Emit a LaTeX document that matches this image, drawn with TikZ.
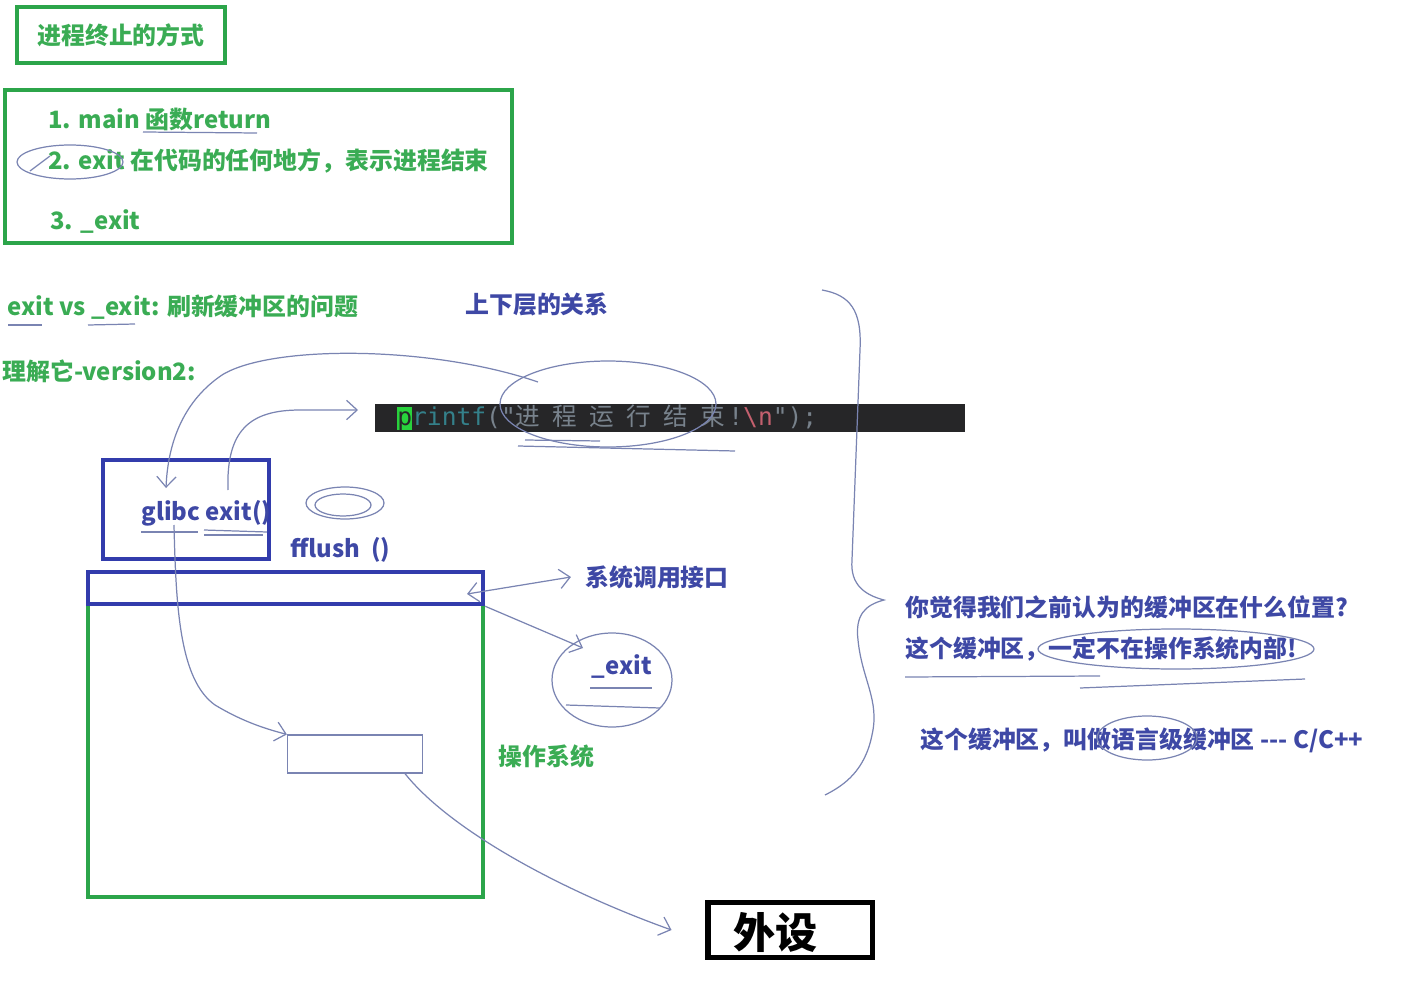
\documentclass[tikz,border=0pt]{standalone}
\usepackage{fontspec}
\setmainfont{Noto Sans CJK SC}
\newfontfamily\codefont{DejaVu Sans Mono}
\newfontfamily\codecjk{Noto Sans CJK SC}
\usetikzlibrary{positioning,arrows.meta}
\definecolor{osgreen}{RGB}{44,165,74}
\definecolor{txtgreen}{RGB}{58,172,84}
\definecolor{libblue}{RGB}{50,60,172}
\definecolor{inkblue}{RGB}{62,72,165}
\definecolor{pen}{RGB}{122,132,178}
\definecolor{codebg}{RGB}{38,38,40}
\definecolor{codefn}{RGB}{52,128,138}
\definecolor{codestr}{RGB}{120,130,140}
\definecolor{codered}{RGB}{196,96,110}
\definecolor{cursor}{RGB}{40,210,60}
\tikzset{
  txt/.style={font=\fontsize{13.6}{16}\selectfont\bfseries, anchor=west, inner sep=0pt},
  greentxt/.style={txt, text=txtgreen},
  bluetxt/.style={txt, text=inkblue},
  gbox/.style={draw=osgreen, line width=2.6pt},
  bbox/.style={draw=libblue, line width=2.6pt},
  hand/.style={draw=pen, line width=0.7pt},
  handarrow/.style={hand, -{Straight Barb[length=6pt,width=11pt]}}
}
\begin{document}
\begin{tikzpicture}[x=0.02cm,y=-0.02cm]
  \useasboundingbox (0,0) rectangle (1417,990);
  % ways to end a process
  \node[gbox, greentxt, anchor=center, minimum width=4.16cm, minimum height=1.12cm] (title) at (121,35) {进程终止的方式};
  \node[gbox, minimum width=10.14cm, minimum height=3.06cm] (ways) at (258.5,166.5) {};
  \node[greentxt] (way1) at (48,119) {1. main 函数return};
  \node[greentxt] (way2) at (48,161) {2. exit 在代码的任何地方，表示进程结束};
  \node[greentxt] (way3) at (50,222) {3. \_exit};
  \draw[hand] (70,162) ellipse [x radius=53, y radius=17];
  \draw[hand] (30,171) -- (50,156);
  \draw[hand] (143,132) -- (257,133);

  \node[greentxt] (vs) at (7,307) {exit vs \_exit: 刷新缓冲区的问题};
  \draw[hand] (8,325) -- (42,325);
  \draw[hand] (88,325) -- (135,324);
  \node[bluetxt] (layers) at (465,304) {上下层的关系};
  \node[greentxt] (ver) at (2,371) {理解它-version2:};

  % code line
  \node[fill=codebg, inner sep=0pt, minimum width=11.8cm, minimum height=0.56cm] (code) at (670,418) {};
  \node[fill=cursor, inner sep=0pt, minimum width=0.3cm, minimum height=0.46cm] (cursorbox) at (404,418) {};
  \node[anchor=west, inner sep=0pt, font=\codefont\fontsize{14}{16}\selectfont] (codetxt) at (397,418)
    {{\color{codebg}p}{\color{codefn}rintf}{\color{codestr}("}{\codecjk\color{codestr}进\hspace{7pt}程\hspace{7pt}运\hspace{7pt}行\hspace{7pt}结\hspace{7pt}束}\hspace{2pt}{\color{codestr}!}{\color{codered}\textbackslash n}{\color{codestr}");}};
  \draw[hand] (608,404) ellipse [x radius=108, y radius=43];
  \draw[hand] (525,440) -- (600,441);
  \draw[hand] (518,446) -- (735,451);

  % library layer
  \node[bbox, minimum width=3.32cm, minimum height=1.98cm] (glibc) at (186,509.5) {};
  \node[bluetxt] (glibctxt) at (141,513) {glibc exit()};
  \draw[hand] (141,532) -- (198,532);
  \draw[hand] (204,530) -- (267,532);
  \draw[hand] (204,535) -- (263,535);
  \node[bluetxt] (fflush) at (290,550) {fflush\ \ ()};
  \draw[hand] (345,503) ellipse [x radius=39, y radius=16];
  \draw[hand] (343,505) ellipse [x radius=28, y radius=11];

  % operating system
  \node[gbox, minimum width=7.9cm, minimum height=6.5cm] (os) at (285.5,734.5) {};
  \node[bbox, minimum width=7.9cm, minimum height=0.64cm] (syscall) at (285.5,588) {};
  \node[hand, minimum width=2.7cm, minimum height=0.76cm] (kbuf) at (355,754) {};
  \node[bluetxt] (syscalltxt) at (585,577) {系统调用接口};
  \node[greentxt] (ostxt) at (498,756) {操作系统};
  \node[bluetxt, anchor=center] (sysexit) at (622,667) {\_exit};
  \draw[hand] (612,680) ellipse [x radius=60, y radius=47];
  \draw[hand] (590,688) -- (652,688);
  \draw[hand] (566,705) -- (660,708);

  % device
  \node[draw=black, line width=3.4pt, minimum width=3.3cm, minimum height=1.1cm] (peri) at (790,930) {};
  \node[txt, font=\fontsize{24}{26}\selectfont\bfseries] (peritxt) at (733,932) {外设};

  % notes on the right
  \node[bluetxt] (q1) at (905,607) {你觉得我们之前认为的缓冲区在什么位置?};
  \node[bluetxt] (q2) at (905,649) {这个缓冲区，一定不在操作系统内部!};
  \node[bluetxt] (q3) at (920,740) {这个缓冲区，叫做语言级缓冲区 -{}-{}- C/C++};
  \draw[hand] (1176,649) ellipse [x radius=138, y radius=20];
  \draw[hand] (905,677) -- (1100,676);
  \draw[hand] (1080,688) -- (1305,679);
  \draw[hand] (1147,738) ellipse [x radius=50, y radius=22];
  \draw[hand] (822,290) .. controls (850,295) and (862,310) .. (860,350) -- (852,560)
    .. controls (850,585) and (865,595) .. (884,600)
    .. controls (865,605) and (855,615) .. (858,640)
    .. controls (862,680) and (880,700) .. (872,735)
    .. controls (865,770) and (845,785) .. (825,795);

  % connectors
  \coordinate (pfin) at (538,382);
  \coordinate (glibcin) at (166,488);
  \coordinate (glibcout) at (228,490);
  \coordinate (pfout) at (358,410);
  \coordinate (glibcdown) at (174,525);
  \coordinate (sysin) at (467,594);
  \draw[handarrow] (pfin) .. controls (430,345) and (270,345) .. (222,375)
    .. controls (185,400) and (168,440) .. (glibcin);
  \draw[handarrow] (glibcout) .. controls (226,430) and (250,410) .. (300,410) -- (pfout);
  \draw[handarrow] (glibcdown) .. controls (176,610) and (180,680) .. (215,705)
    .. controls (240,720) and (262,728) .. (kbuf.north west);
  \draw[hand, {Straight Barb[length=6pt,width=11pt]}-{Straight Barb[length=6pt,width=11pt]}]
    (sysin) -- ([xshift=-8pt]syscalltxt.west);
  \draw[handarrow] (syscall.south east) -- (583,648);
  \draw[handarrow] ([xshift=1.0cm]kbuf.south) .. controls (450,830) and (560,890) .. ([xshift=-0.66cm]peri.west);
\end{tikzpicture}
\end{document}
